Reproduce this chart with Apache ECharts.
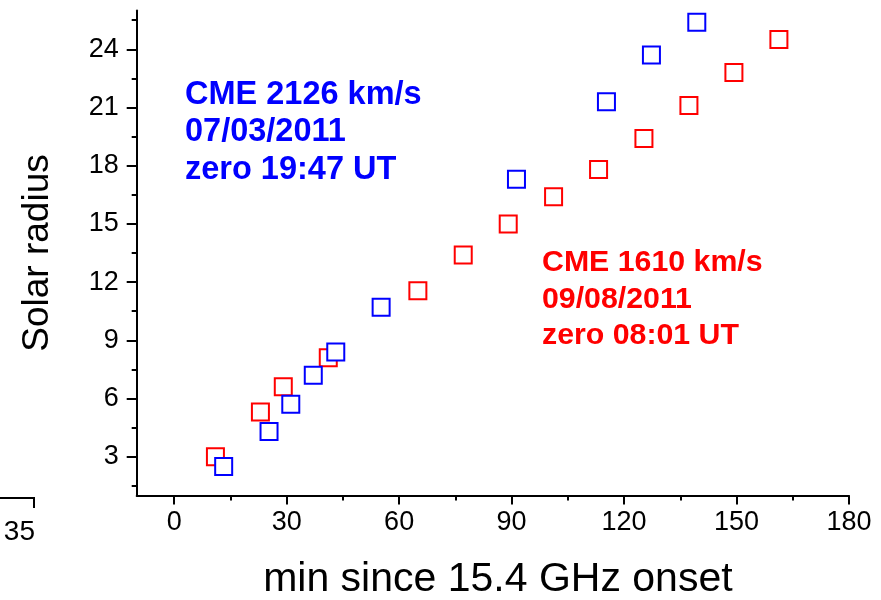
<!DOCTYPE html>
<html>
<head>
<meta charset="utf-8">
<script src="https://cdn.jsdelivr.net/npm/echarts@6/dist/echarts.min.js"></script>
<style>html,body{margin:0;padding:0;background:#fff}#c{width:881px;height:600px}</style>
</head>
<body>
<div id="c"></div>
<script>
// ---- data ----
var redTime   = [11, 23, 29.1, 41.1, 65, 77.1, 89.1, 101.2, 113.2, 125.3, 137.3, 149.3, 161.3];
var redRadius = [3.0, 5.3, 6.6, 8.1, 11.55, 13.4, 15.0, 16.4, 17.8, 19.4, 21.1, 22.8, 24.5];
var blueTime   = [13.2, 25.3, 31.1, 37.1, 43.1, 55.2, 91.3, 115.3, 127.3, 139.4];
var blueRadius = [2.5, 4.3, 5.7, 7.2, 8.4, 10.7, 17.3, 21.3, 23.7, 25.4];
var xMajor = [0, 30, 60, 90, 120, 150, 180];
var xMinor = [15, 45, 75, 105, 135, 165];
var yMajor = [3, 6, 9, 12, 15, 18, 21, 24];
var yMinor = [1.5, 4.5, 7.5, 10.5, 13.5, 16.5, 19.5, 22.5, 25.5];
var blueText = ['CME 2126 km/s', '07/03/2011', 'zero 19:47 UT'];
var redText  = ['CME 1610 km/s', '09/08/2011', 'zero 08:01 UT'];

function pairs(xs, ys) { return xs.map(function (x, i) { return [x, ys[i]]; }); }

var FONT = '"Liberation Sans", Arial, sans-serif';
var chart = echarts.init(document.getElementById('c'), null, {renderer: 'canvas'});

var axisLineStyle = {color: '#000', width: 2};
var option = {
  animation: false,
  backgroundColor: '#fff',
  grid: {left: 136.7, right: 32, top: 10.5, bottom: 104.5, outerBoundsMode: 'none', containLabel: false},
  xAxis: [{
    type: 'value', min: -10, max: 180, position: 'bottom',
    name: 'min since 15.4 GHz onset', nameLocation: 'middle', nameGap: 64,
    nameTextStyle: {fontFamily: FONT, fontSize: 41, color: '#000', padding: [0, 0, 0, 10]},
    axisLine: {show: true, onZero: false, lineStyle: axisLineStyle},
    axisTick: {show: true, inside: false, length: 9, customValues: xMajor, lineStyle: {color: '#000', width: 2}},
    axisLabel: {show: true, customValues: xMajor, margin: 14, fontFamily: FONT, fontSize: 27, color: '#000'},
    splitLine: {show: false}
  }, {
    type: 'value', min: -10, max: 180, position: 'bottom',
    axisLine: {show: false, onZero: false},
    axisTick: {show: true, inside: false, length: 5, customValues: xMinor, lineStyle: {color: '#000', width: 2}},
    axisLabel: {show: false},
    splitLine: {show: false}
  }],
  yAxis: [{
    type: 'value', min: 1, max: 26, position: 'left',
    name: 'Solar radius', nameLocation: 'middle', nameGap: 72, nameRotate: 90,
    nameTextStyle: {fontFamily: FONT, fontSize: 37, color: '#000', padding: [0, 0, 8, 0]},
    axisLine: {show: true, onZero: false, lineStyle: axisLineStyle},
    axisTick: {show: true, inside: false, length: 10, customValues: yMajor, lineStyle: {color: '#000', width: 2}},
    axisLabel: {show: true, customValues: yMajor, margin: 18, fontFamily: FONT, fontSize: 27, color: '#000'},
    splitLine: {show: false}
  }, {
    type: 'value', min: 1, max: 26, position: 'left',
    axisLine: {show: false, onZero: false},
    axisTick: {show: true, inside: false, length: 5, customValues: yMinor, lineStyle: {color: '#000', width: 2}},
    axisLabel: {show: false},
    splitLine: {show: false}
  }],
  series: [{
    type: 'scatter', name: 'CME 1610', xAxisIndex: 0, yAxisIndex: 0,
    data: pairs(redTime, redRadius),
    symbol: 'rect', symbolSize: 17,
    itemStyle: {color: '#fff', borderColor: '#ff0000', borderWidth: 2, opacity: 1},
    emphasis: {disabled: true}, z: 3
  }, {
    type: 'scatter', name: 'CME 2126', xAxisIndex: 0, yAxisIndex: 0,
    data: pairs(blueTime, blueRadius),
    symbol: 'rect', symbolSize: 17,
    itemStyle: {color: '#fff', borderColor: '#0000ff', borderWidth: 2, opacity: 1},
    emphasis: {disabled: true}, z: 4
  }],
  graphic: [].concat(
    blueText.map(function (t, i) {
      return {type: 'text', x: 185, y: 95 + i * 37.5, z: 10, silent: true,
        style: {text: t, fill: '#0000ff', font: 'bold 32.5px ' + FONT, textAlign: 'left', textVerticalAlign: 'middle'}};
    }),
    redText.map(function (t, i) {
      return {type: 'text', x: 542, y: 263 + i * 36.5, z: 10, silent: true,
        style: {text: t, fill: '#ff0000', font: 'bold 30.3px ' + FONT, textAlign: 'left', textVerticalAlign: 'middle'}};
    }),
    [
      {type: 'polyline', silent: true, shape: {points: [[0, 498], [34, 498], [34, 508]]},
        style: {stroke: '#000', lineWidth: 2, fill: null}},
      {type: 'text', x: 35, y: 532, silent: true,
        style: {text: '35', fill: '#000', font: '28px ' + FONT, textAlign: 'right', textVerticalAlign: 'middle'}}
    ]
  )
};
chart.setOption(option);
</script>
</body>
</html>
